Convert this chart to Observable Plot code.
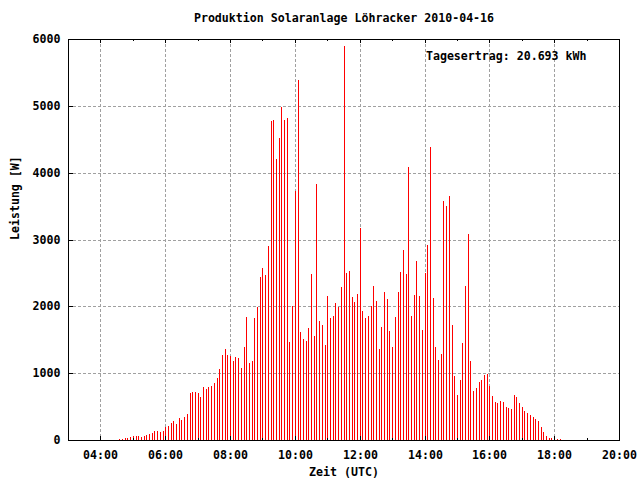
<!DOCTYPE html>
<html><head><meta charset="utf-8">
<script src="https://cdn.jsdelivr.net/npm/d3@7"></script>
<script src="https://cdn.jsdelivr.net/npm/@observablehq/plot@0.6"></script>
<style>body{margin:0;background:#fff} svg{display:block}</style>
</head><body><div id="chart"></div>
<script>
const times = [
  "04:35","04:40","04:45","04:50","04:55",
  "05:00","05:05","05:10","05:15","05:20","05:25","05:30","05:35","05:40","05:45","05:50","05:55",
  "06:00","06:05","06:10","06:15","06:20","06:25","06:30","06:35","06:40","06:45","06:50","06:55",
  "07:00","07:05","07:10","07:15","07:20","07:25","07:30","07:35","07:40","07:45","07:50","07:55",
  "08:00","08:05","08:10","08:15","08:20","08:25","08:30","08:35","08:40","08:45","08:50","08:55",
  "09:00","09:05","09:10","09:15","09:20","09:25","09:30","09:35","09:40","09:45","09:50","09:55",
  "10:00","10:05","10:10","10:15","10:20","10:25","10:30","10:35","10:40","10:45","10:50","10:55",
  "11:00","11:05","11:10","11:15","11:20","11:25","11:30","11:35","11:40","11:45","11:50","11:55",
  "12:00","12:05","12:10","12:15","12:20","12:25","12:30","12:35","12:40","12:45","12:50","12:55",
  "13:00","13:05","13:10","13:15","13:20","13:25","13:30","13:35","13:40","13:45","13:50","13:55",
  "14:00","14:05","14:10","14:15","14:20","14:25","14:30","14:35","14:40","14:45","14:50","14:55",
  "15:00","15:05","15:10","15:15","15:20","15:25","15:30","15:35","15:40","15:45","15:50","15:55",
  "16:00","16:05","16:10","16:15","16:20","16:25","16:30","16:35","16:40","16:45","16:50","16:55",
  "17:00","17:05","17:10","17:15","17:20","17:25","17:30","17:35","17:40","17:45","17:50","17:55",
  "18:00","18:05","18:10"
];
const watts = [
  15,15,30,30,45,
  60,60,60,45,60,75,90,105,135,135,120,135,
  195,210,255,285,240,330,300,345,390,700,715,715,
  700,640,790,760,790,805,850,925,1060,1270,1360,1265,
  1255,1180,1240,1225,1075,1390,1835,1150,1180,1820,1985,2435,
  2580,2465,2910,4775,4790,4210,4520,4985,4790,4820,1465,2000,
  3730,5390,1610,1505,1480,1670,2480,1550,3835,1775,1715,1420,
  2150,1820,1850,2045,1985,2285,5895,2495,2535,2135,2060,2180,
  3165,1925,1820,1850,2000,2300,2075,1360,1685,2210,2105,1625,
  1390,1835,2210,2520,2850,2480,4090,1850,2165,2685,2150,1640,
  2495,2925,4390,2120,1390,1195,1285,3580,3495,3655,1715,955,
  670,895,1450,2300,3075,1180,730,775,865,895,970,985,
  805,655,565,550,580,565,495,480,465,670,640,550,
  495,435,405,375,345,315,285,195,120,60,30,30,
  20,15,15
];
const xTickHours = [4,6,8,10,12,14,16,18,20];
const xTickLabels = ["04:00","06:00","08:00","10:00","12:00","14:00","16:00","18:00","20:00"];
const xMinorHours = [5,7,9,11,13,15,17,19];
const yTicks = [0,1000,2000,3000,4000,5000,6000];
const title = "Produktion Solaranlage Löhracker 2010-04-16";
const yieldLabel = "Tagesertrag: 20.693 kWh";
const xLabel = "Zeit (UTC)";
const yLabel = "Leistung [W]";

const data = times.map((t, i) => {
  const [h, m] = t.split(":").map(Number);
  return {hour: h + m / 60, w: watts[i]};
});

const W = 640, H = 480, mL = 68, mR = 21, mT = 39, mB = 40;
const plotW = W - mL - mR, plotH = H - mT - mB;
const gridStyle = {stroke: "#a0a0a0", strokeOpacity: 1, strokeDasharray: "3,2", strokeWidth: 1};

const chart = Plot.plot({
  width: W, height: H,
  marginLeft: mL, marginRight: mR, marginTop: mT, marginBottom: mB,
  style: {fontFamily: "DejaVu Sans Mono", fontSize: "11.6px", fontWeight: "bold", background: "#fff", color: "#000"},
  x: {domain: [3, 20], round: true, axis: null},
  y: {domain: [0, 6000], round: true, axis: null},
  marks: [
    Plot.gridX(xTickHours.filter(h => h < 20), gridStyle),
    Plot.gridY(yTicks.filter(v => v > 0 && v < 6000), gridStyle),
    Plot.ruleX(data, {x: "hour", y1: 0, y2: "w", stroke: "#ff0000", strokeWidth: 1}),
    Plot.ruleX(xTickHours, {x: d => d, insetTop: plotH - 4, stroke: "#000"}),
    Plot.ruleX(xTickHours, {x: d => d, insetBottom: plotH - 4, stroke: "#000"}),
    Plot.ruleX(xMinorHours, {x: d => d, insetTop: plotH - 2, stroke: "#000"}),
    Plot.ruleX(xMinorHours, {x: d => d, insetBottom: plotH - 2, stroke: "#000"}),
    Plot.ruleY(yTicks, {y: d => d, insetRight: plotW - 5, stroke: "#000"}),
    Plot.frame({stroke: "#000", strokeWidth: 1}),
    Plot.axisX(xTickHours, {label: null, tickSize: 0, tickPadding: 10, tickFormat: d => xTickLabels[xTickHours.indexOf(d)], fill: "#000"}),
    Plot.axisY(yTicks, {label: null, tickSize: 0, tickPadding: 8, tickFormat: d => String(d), fill: "#000"}),
    Plot.text([xLabel], {text: d => d, frameAnchor: "bottom", dy: 32, lineAnchor: "middle", fill: "#000"}),
    Plot.text([yLabel], {text: d => d, frameAnchor: "left", dx: -53, rotate: -90, lineAnchor: "middle", fill: "#000"}),
    Plot.text([title], {text: d => d, frameAnchor: "top", dy: -21, lineAnchor: "middle", fill: "#000"}),
    Plot.text([yieldLabel], {text: d => d, frameAnchor: "top-right", textAnchor: "end", dx: -33, dy: 17, lineAnchor: "middle", fill: "#000"})
  ]
});
document.getElementById("chart").appendChild(chart);
</script>
</body></html>
